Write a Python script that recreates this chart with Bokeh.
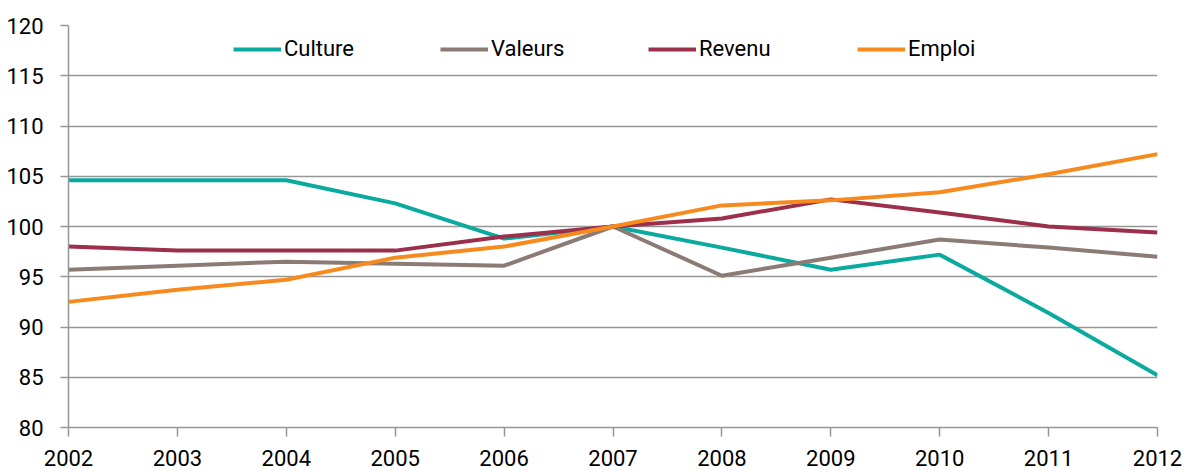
from bokeh.plotting import figure
from bokeh.models import Range1d, FixedTicker, Legend, LegendItem
from bokeh.embed import file_html
from bokeh.resources import INLINE

years = [2002, 2003, 2004, 2005, 2006, 2007, 2008, 2009, 2010, 2011, 2012]
culture = [104.6, 104.6, 104.6, 102.3, 98.8, 100.0, 97.9, 95.7, 97.2, 91.4, 85.2]
valeurs = [95.7, 96.1, 96.5, 96.3, 96.1, 100.0, 95.1, 96.9, 98.7, 97.9, 97.0]
revenu = [98.0, 97.6, 97.6, 97.6, 99.0, 100.0, 100.8, 102.7, 101.4, 100.0, 99.4]
emploi = [92.5, 93.7, 94.7, 96.9, 98.0, 100.0, 102.1, 102.6, 103.4, 105.2, 107.2]
y_ticks = [80, 85, 90, 95, 100, 105, 110, 115, 120]

series = [("Culture", culture, "#0aaa9e"),
          ("Valeurs", valeurs, "#8c7b75"),
          ("Revenu", revenu, "#9b2f4c"),
          ("Emploi", emploi, "#f78a1f")]

FONT = "Roboto"
FS = "22px"
GRID = "#969696"

p = figure(width=1184, height=470, output_backend="svg", toolbar_location=None,
           x_range=Range1d(2002, 2012), y_range=Range1d(80, 120),
           min_border_left=68, min_border_right=27, min_border_top=25, min_border_bottom=43)
p.outline_line_color = None
p.background_fill_color = "white"
p.border_fill_color = "white"

p.xgrid.grid_line_color = None
p.ygrid.grid_line_color = GRID
p.ygrid.grid_line_width = 1.5
p.ygrid.ticker = FixedTicker(ticks=y_ticks)

p.yaxis.ticker = FixedTicker(ticks=y_ticks)
p.yaxis.axis_line_color = GRID
p.yaxis.axis_line_width = 1.5
p.yaxis.major_tick_line_color = GRID
p.yaxis.major_tick_line_width = 1.5
p.yaxis.major_tick_out = 8
p.yaxis.major_tick_in = 0
p.yaxis.minor_tick_line_color = None
p.yaxis.major_label_standoff = 17
p.yaxis.major_label_text_font = FONT
p.yaxis.major_label_text_font_size = FS
p.yaxis.major_label_text_color = "black"

p.xaxis.ticker = FixedTicker(ticks=years)
p.xaxis.axis_line_color = GRID
p.xaxis.axis_line_width = 1.5
p.xaxis.major_tick_line_color = GRID
p.xaxis.major_tick_line_width = 1.5
p.xaxis.major_tick_out = 9
p.xaxis.major_tick_in = 0
p.xaxis.minor_tick_line_color = None
p.xaxis.major_label_standoff = 13
p.xaxis.major_label_text_font = FONT
p.xaxis.major_label_text_font_size = FS
p.xaxis.major_label_text_color = "black"

legend_x = [165, 372, 580, 789]
for (name, vals, color), lx in zip(series, legend_x):
    r = p.line(years, vals, line_color=color, line_width=4)
    lg = Legend(items=[LegendItem(label=name, renderers=[r])], location=(lx, 366),
                orientation="horizontal", padding=0, margin=0, spacing=0,
                glyph_width=48, glyph_height=24, label_height=24, label_standoff=3,
                label_text_font=FONT, label_text_font_size=FS, label_text_color="black",
                border_line_color=None, background_fill_alpha=0)
    p.add_layout(lg, "center")

open("out.html", "w").write(file_html(p, INLINE))
